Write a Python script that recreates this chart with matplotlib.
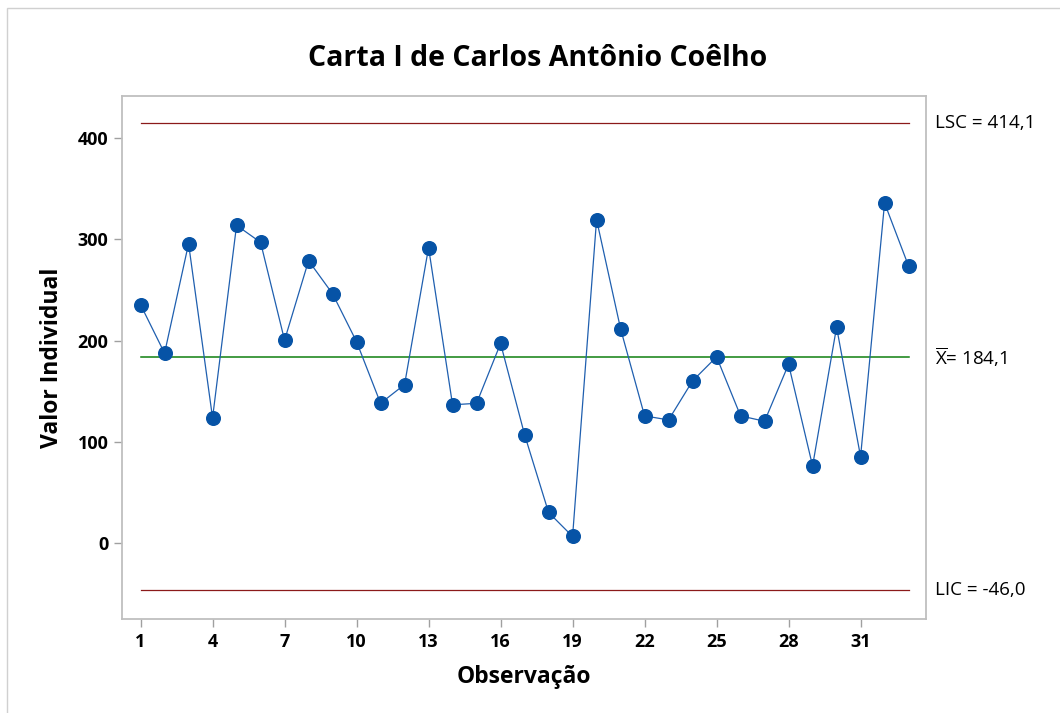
import matplotlib
matplotlib.use("Agg")
import matplotlib.pyplot as plt
from matplotlib.patches import Rectangle

observations = list(range(1, 34))
values = [235.4, 187.6, 295.6, 123.8, 313.7, 296.9, 200.4, 278.8, 246.2, 198.9,
          138.2, 156.7, 291.7, 136.7, 138.2, 197.2, 107.3, 30.6, 6.9, 319.3,
          211.7, 125.8, 121.8, 160.3, 184.0, 125.8, 120.5, 176.7, 76.4, 213.3,
          85.6, 335.7, 273.5]
lsc = 414.1
media = 184.1
lic = -46.0
xticks = [1, 4, 7, 10, 13, 16, 19, 22, 25, 28, 31]
yticks = [0, 100, 200, 300, 400]

plt.rcParams['font.family'] = ['Open Sans', 'DejaVu Sans']
plt.rcParams['mathtext.fontset'] = 'custom'
plt.rcParams['mathtext.rm'] = 'Open Sans'
plt.rcParams['mathtext.it'] = 'Open Sans'

fig = plt.figure(figsize=(10.6, 7.13), dpi=100)
ax = fig.add_axes([0.1154, 0.1318, 0.8739 - 0.1154, 0.8658 - 0.1318])

fig.patches.append(Rectangle((7 / 1060, -0.1), 1.2, (713 - 8) / 713 + 0.1,
                             transform=fig.transFigure, fill=False,
                             edgecolor='#D0D0D0', linewidth=1.0))

ax.plot(observations, values, color='#1F5FAF', linewidth=0.9, zorder=3)
ax.plot(observations, values, linestyle='none', marker='o', markersize=9.8,
        markerfacecolor='#0653A6', markeredgecolor='#0653A6', zorder=4)

x0, x1 = observations[0], observations[-1]
ax.plot([x0, x1], [lsc, lsc], color='#8B1A1A', linewidth=0.9, zorder=2)
ax.plot([x0, x1], [lic, lic], color='#8B1A1A', linewidth=0.9, zorder=2)
ax.plot([x0, x1], [media, media], color='#108010', linewidth=1.1, zorder=2)

ax.set_xlim(0.24, 33.74)
ax.set_ylim(-74.5, 441.5)
ax.set_xticks(xticks)
ax.set_yticks(yticks)
ax.set_xticklabels([str(t) for t in xticks], fontsize=13, fontweight='bold')
ax.set_yticklabels([str(t) for t in yticks], fontsize=13, fontweight='bold')

for s in ax.spines.values():
    s.set_color('#BFBFBF')
    s.set_linewidth(1.3)
ax.tick_params(axis='both', direction='out', length=6, width=1.0, color='#A0A0A0',
               pad=4)

tr = ax.get_yaxis_transform()
lx = 1.011
ax.text(lx, lsc, 'LSC = 414,1', transform=tr, fontsize=13.5, va='center', ha='left')
ax.text(lx, media, r'$\overline{\mathrm{X}}$= 184,1', transform=tr, fontsize=13.5,
        va='center', ha='left')
ax.text(lx, lic, 'LIC = -46,0', transform=tr, fontsize=13.5, va='center', ha='left')

fig.text(538 / 1060, 1 - 59 / 713, 'Carta I de Carlos Antônio Coêlho', fontsize=20.5,
         fontweight='bold', ha='center', va='center')
ax.set_xlabel('Observação', fontsize=16.5, fontweight='bold', labelpad=10)
ax.set_ylabel('Valor Individual', fontsize=16.5, fontweight='bold', labelpad=10)

fig.savefig('out.png', dpi=100)
